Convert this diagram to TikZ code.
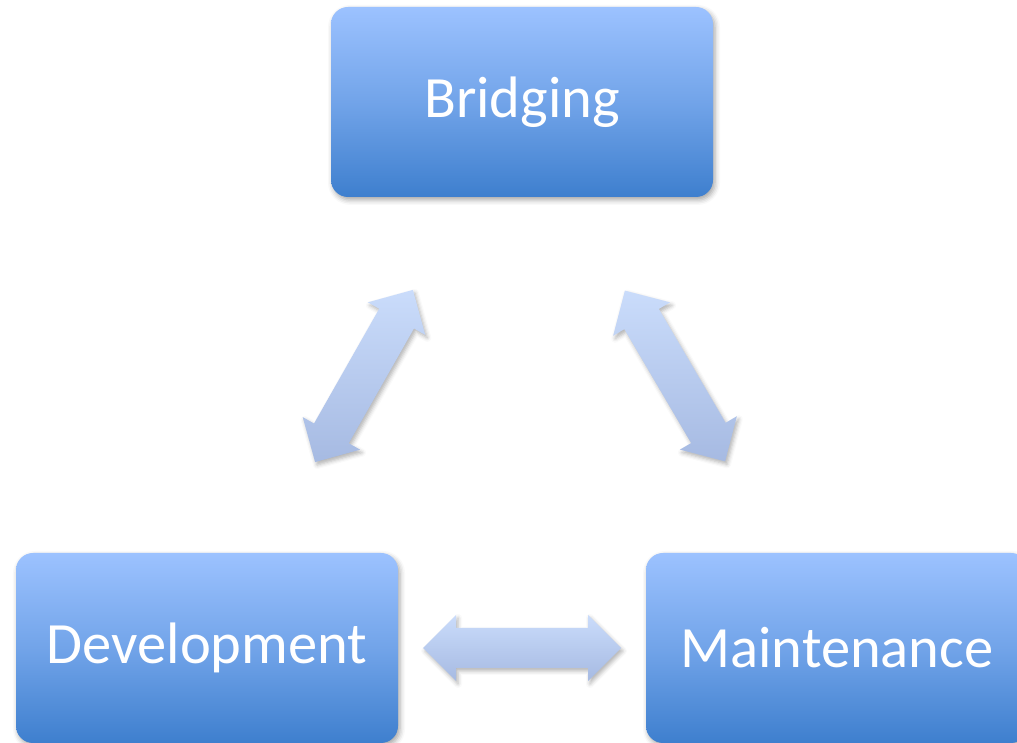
\documentclass[tikz,border=0pt]{standalone}
\usepackage{fontspec}
\setmainfont{Carlito}
\usetikzlibrary{shadows.blur}
\definecolor{boxtop}{RGB}{156,194,255}
\definecolor{boxbot}{RGB}{62,127,206}
\definecolor{arrlight}{RGB}{202,220,251}
\definecolor{arrdark}{RGB}{166,186,226}
\newcommand{\lbl}[1]{\raisebox{-3pt}{#1}}
\tikzset{
  stage/.style={rectangle, rounded corners=17pt, minimum width=382pt, minimum height=190pt,
    top color=boxtop, bottom color=boxbot, middle color=boxtop!55!boxbot, text=white,
    font=\fontsize{58.5}{60}\selectfont,
    blur shadow={shadow xshift=2pt, shadow yshift=-3pt, shadow blur radius=5pt, shadow opacity=35}},
  blockarrow/.style={draw=none, top color=arrlight, bottom color=arrdark,
    blur shadow={shadow xshift=2pt, shadow yshift=-3pt, shadow blur radius=4pt, shadow opacity=30}}
}
\newcommand{\dblarrowpath}{(-99,0) -- (-66,33) -- (-66,20) -- (66,20) -- (66,33) -- (99,0) -- (66,-33) -- (66,-20) -- (-66,-20) -- (-66,-33) -- cycle}
\begin{document}
\begin{tikzpicture}[x=1pt,y=1pt]
\useasboundingbox (0,0) rectangle (1017,743);
\node[stage] (bridging) at (522,641) {\lbl{Bridging}};
\node[stage] (development) at (207,95) {\lbl{Development}};
\node[stage] (maintenance) at (837,95) {\lbl{Maintenance}};
% left diagonal arrow (Development <-> Bridging)
\begin{scope}[shift={(364,367)}, rotate=60.4]
  \coordinate (la) at (-99,0);
  \coordinate (lb) at (99,0);
  \path[blockarrow] \dblarrowpath;
\end{scope}
% right diagonal arrow (Bridging <-> Maintenance)
\begin{scope}[shift={(675,367)}, rotate=120.4]
  \coordinate (ra) at (-99,0);
  \coordinate (rb) at (99,0);
  \path[blockarrow] \dblarrowpath;
\end{scope}
% bottom arrow (Development <-> Maintenance)
\begin{scope}[shift={(522,95)}]
  \coordinate (ba) at (-99,0);
  \coordinate (bb) at (99,0);
  \path[blockarrow] \dblarrowpath;
\end{scope}
\end{tikzpicture}
\end{document}
